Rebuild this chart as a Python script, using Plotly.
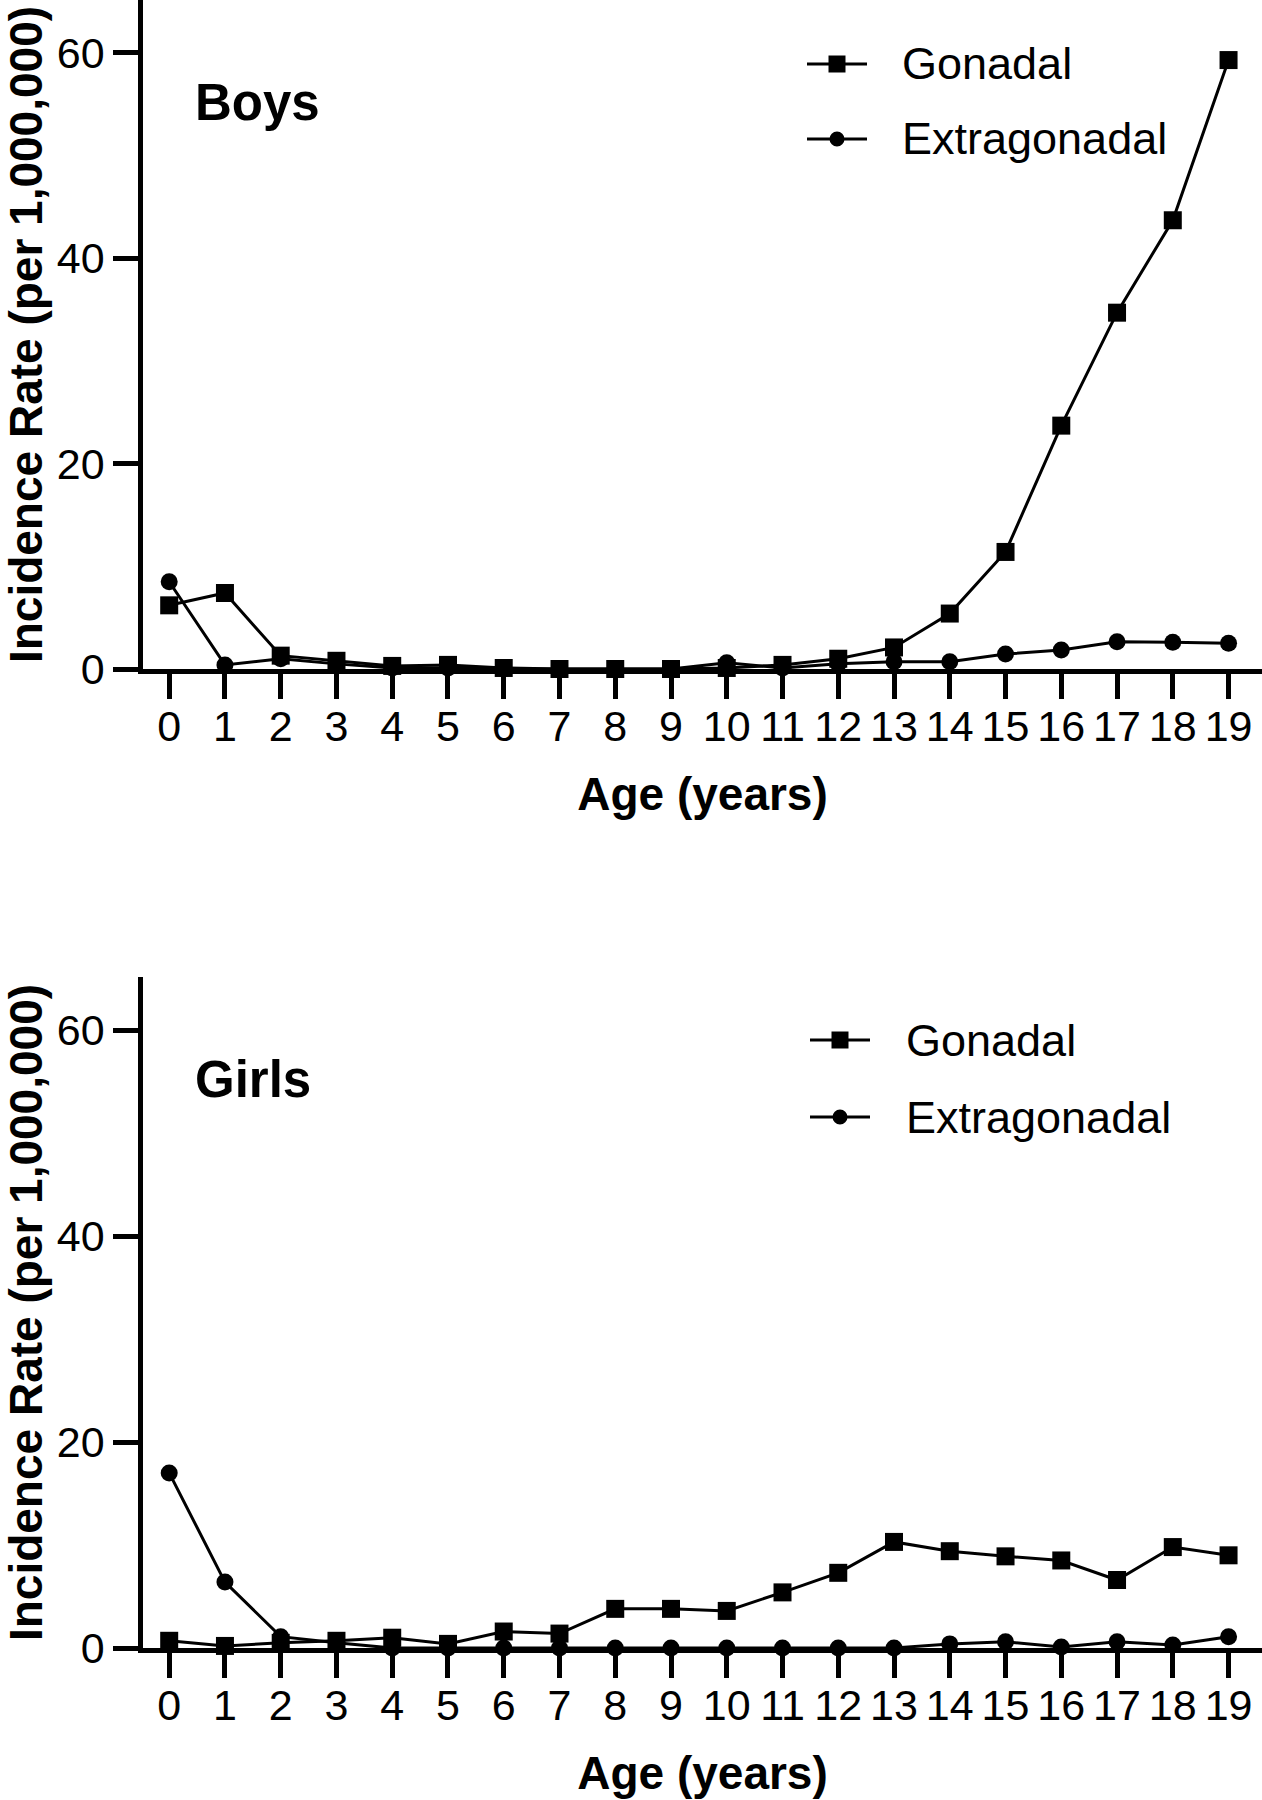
import plotly.graph_objects as go
from plotly.subplots import make_subplots

ages = list(range(20))
age_labels = [str(a) for a in ages]

boys_gonadal = [6.2, 7.4, 1.3, 0.8, 0.3, 0.4, 0.1, 0.0, 0.0, 0.0,
                0.1, 0.4, 1.0, 2.1, 5.4, 11.4, 23.7, 34.7, 43.7, 59.3]
boys_extragonadal = [8.5, 0.4, 1.0, 0.5, 0.1, 0.1, 0.0, 0.0, 0.0, 0.0,
                     0.6, 0.1, 0.5, 0.7, 0.7, 1.45, 1.85, 2.65, 2.6, 2.5]

girls_gonadal = [0.7, 0.2, 0.5, 0.7, 1.0, 0.4, 1.6, 1.4, 3.8, 3.8,
                 3.6, 5.4, 7.3, 10.3, 9.4, 8.9, 8.5, 6.6, 9.8, 9.0]
girls_extragonadal = [17.0, 6.4, 1.1, 0.5, 0.0, 0.0, 0.0, 0.0, 0.0, 0.0,
                      0.0, 0.0, 0.0, 0.0, 0.4, 0.6, 0.1, 0.6, 0.3, 1.1]

y_ticks = [0, 20, 40, 60]
series_names = ["Gonadal", "Extragonadal"]
panel_names = ["Boys", "Girls"]

W, H = 1262, 1800
L, R, T, B = 143, 0, 0, 152
PW, PH = W - L - R, H - T - B
FONT = "Liberation Sans, Arial, Helvetica, sans-serif"


def px_x(px):
    return (px - L) / PW


def px_y(py):
    return (H - B - py) / PH


fig = make_subplots(rows=2, cols=1, vertical_spacing=0.1)

line_w = 3
for row, (gon, ext) in enumerate([(boys_gonadal, boys_extragonadal),
                                   (girls_gonadal, girls_extragonadal)], start=1):
    fig.add_trace(go.Scatter(x=ages, y=gon, mode="lines+markers", name=series_names[0],
                             line=dict(color="black", width=line_w),
                             marker=dict(symbol="square", size=18, color="black"),
                             cliponaxis=False, showlegend=False), row=row, col=1)
    fig.add_trace(go.Scatter(x=ages, y=ext, mode="lines+markers", name=series_names[1],
                             line=dict(color="black", width=line_w),
                             marker=dict(symbol="circle", size=17, color="black"),
                             cliponaxis=False, showlegend=False), row=row, col=1)

axis_common = dict(showgrid=False, zeroline=False, showline=True, linecolor="black",
                   linewidth=4.5, ticks="outside", ticklen=25, tickwidth=4.5,
                   tickcolor="black", tickfont=dict(family=FONT, size=43, color="black"))

for row in (1, 2):
    fig.update_xaxes(range=[-0.47, 19.6], tickmode="array", tickvals=ages, ticktext=age_labels,
                     ticklabelstandoff=-9,
                     title=dict(text="<b>Age (years)</b>", font=dict(family=FONT, size=46, color="black"),
                                standoff=30),
                     **axis_common, row=row, col=1)
    fig.update_yaxes(range=[0, 65.15], tickmode="array", tickvals=y_ticks,
                     ticktext=[str(v) for v in y_ticks],
                     title=dict(text="<b>Incidence Rate (per 1,000,000)</b>",
                                font=dict(family=FONT, size=46, color="black"), standoff=14),
                     **axis_common, row=row, col=1)

fig.update_layout(
    yaxis=dict(domain=[px_y(669), 1.0]),
    yaxis2=dict(domain=[0.0, px_y(977)]),
)

# Panel labels
for name, py in [(panel_names[0], 102), (panel_names[1], 1079)]:
    fig.add_annotation(text=f"<b>{name}</b>", xref="paper", yref="paper",
                       x=px_x(193), y=px_y(py), xanchor="left", yanchor="middle",
                       showarrow=False, font=dict(family=FONT, size=51, color="black"))

# Legends (drawn manually to match the reference style)
legend_rows = [
    (807, 867, 900, [64, 139]),
    (810, 870, 904, [1040, 1117]),
]
for x0, x1, xt, ys in legend_rows:
    for i, py in enumerate(ys):
        fig.add_shape(type="line", xref="paper", yref="paper",
                      x0=px_x(x0), x1=px_x(x1), y0=px_y(py), y1=px_y(py),
                      line=dict(color="black", width=line_w))
        cx = (x0 + x1) / 2
        if i == 0:
            s = 8.5
            fig.add_shape(type="rect", xref="paper", yref="paper",
                          x0=px_x(cx - s), x1=px_x(cx + s), y0=px_y(py + s), y1=px_y(py - s),
                          fillcolor="black", line=dict(width=0))
        else:
            s = 7.5
            fig.add_shape(type="circle", xref="paper", yref="paper",
                          x0=px_x(cx - s), x1=px_x(cx + s), y0=px_y(py + s), y1=px_y(py - s),
                          fillcolor="black", line=dict(width=0))
        fig.add_annotation(text=series_names[i], xref="paper", yref="paper",
                           x=px_x(xt), y=px_y(py), xanchor="left", yanchor="middle",
                           showarrow=False, font=dict(family=FONT, size=45, color="black"))

fig.update_layout(
    width=W, height=H,
    margin=dict(l=L, r=R, t=T, b=B, autoexpand=False),
    plot_bgcolor="white", paper_bgcolor="white",
    showlegend=False,
    font=dict(family=FONT, color="black"),
)

fig.write_html("out.html", config={"displayModeBar": False},
               post_script="document.body.style.margin='0px';")
